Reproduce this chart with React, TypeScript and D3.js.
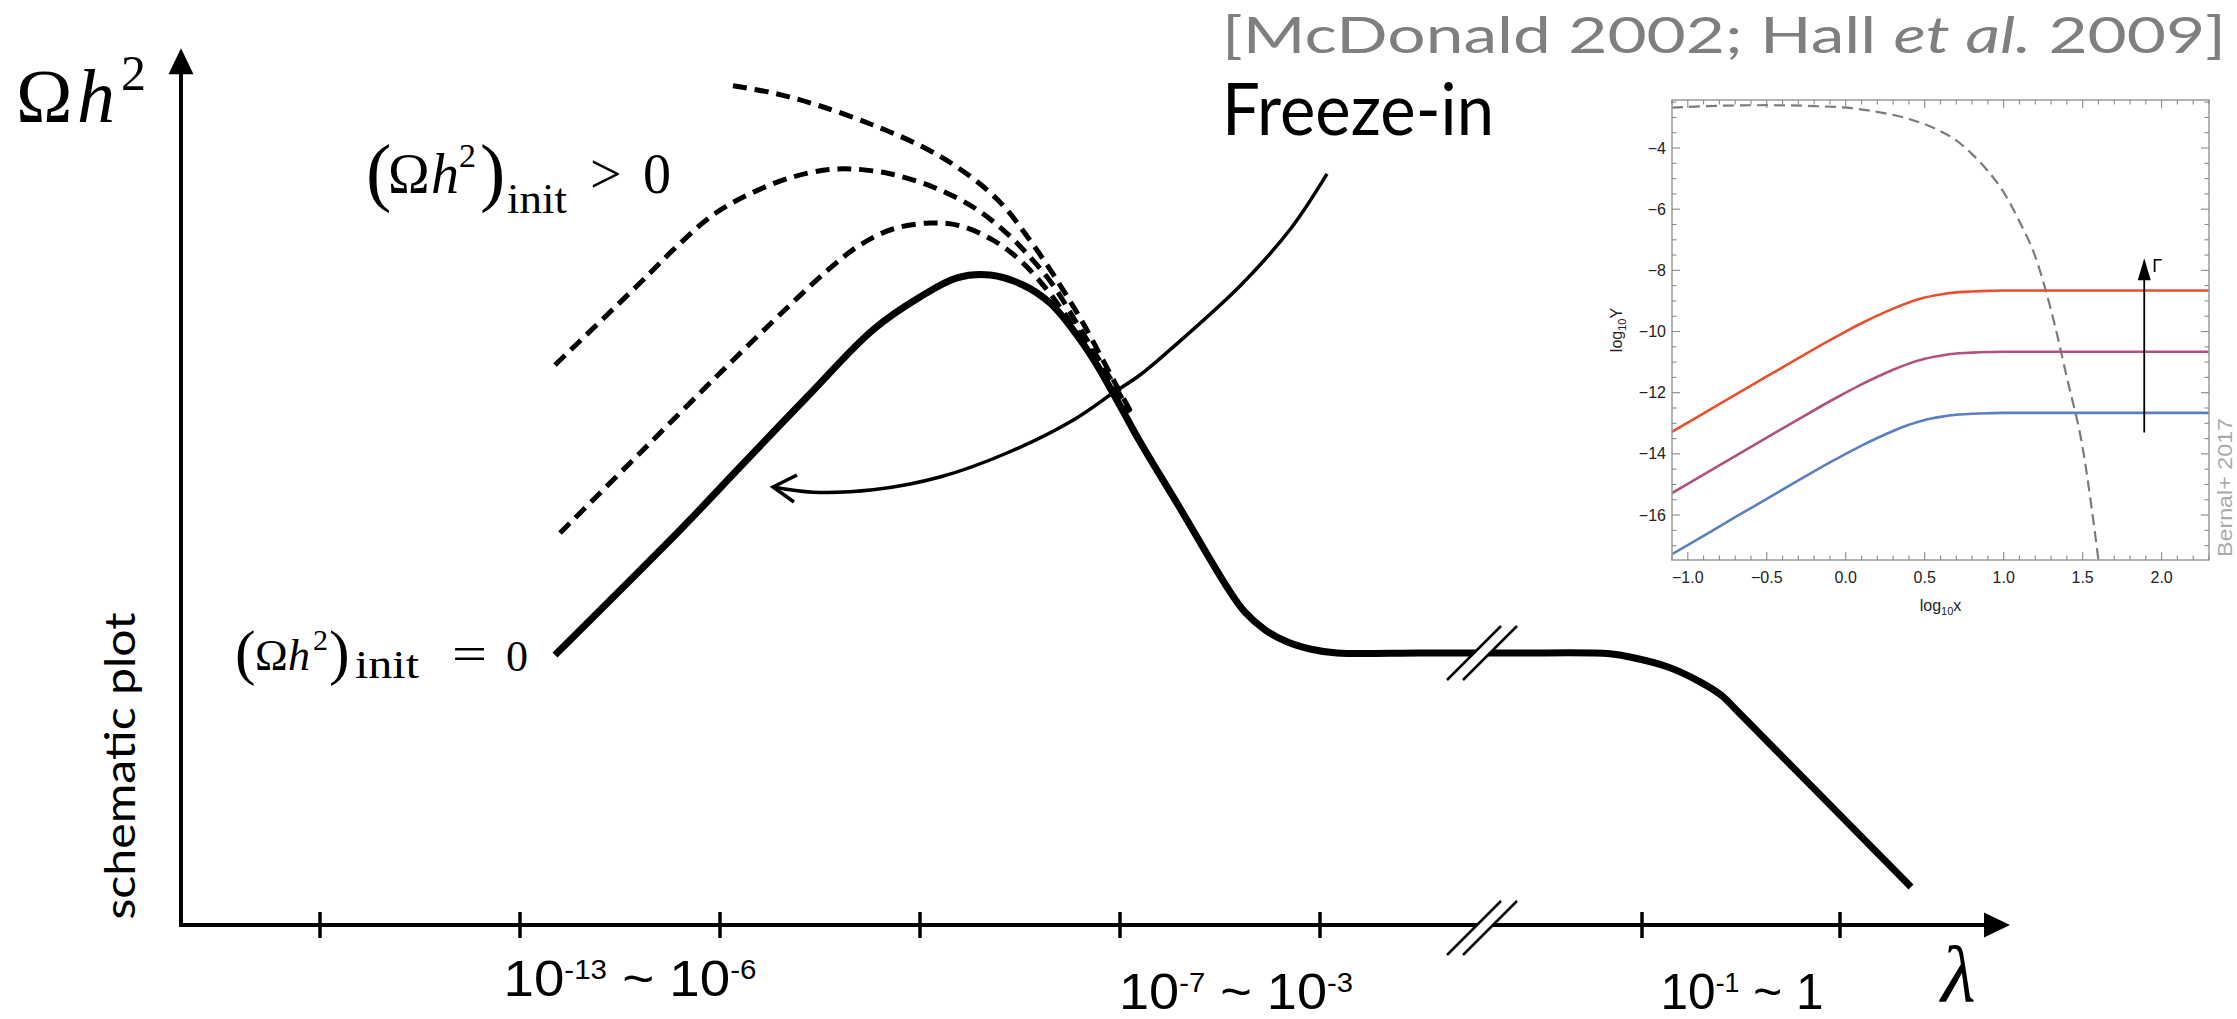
import React, { useRef, useEffect } from 'react';
import * as d3 from 'd3';

type Pt = [number, number];

const W = 2237;
const H = 1019;

const SERIF = '"Liberation Serif", "Times New Roman", serif';
const SANS = '"Liberation Sans", Arial, sans-serif';
const HUMAN = 'Lato, "Open Sans", sans-serif';

// ---- main schematic: x = position along the lambda axis (tick units), y = relic abundance (arbitrary units)
const lambdaTicks = [1, 2, 3, 4, 5, 6, 7.61, 8.6];
const lambdaBreak = 6.81;
const rangeLabelPos = [2.55, 5.58, 8.11];
const rangeLabelBase = [996, 1009, 1009];
const rangeLabelWidth = [253, 234, 163];
const rangeLabelParts = [
  ['10', '-13', ' ~ ', '10', '-6'],
  ['10', '-7', ' ~ ', '10', '-3'],
  ['10', '-1', ' ~ 1', '', ''],
];

// (Omega h^2)_init = 0
const zeroInitCurve: Pt[] = [
  [2.175, 3.375], [2.815, 4.975], [3.1, 5.725], [3.435, 6.6], [3.765, 7.44], [4.0, 7.85],
  [4.185, 8.09], [4.35, 8.125], [4.515, 8.0], [4.65, 7.775], [4.765, 7.44], [4.875, 7.04],
  [4.985, 6.56], [5.1, 6.04], [5.3, 5.21], [5.535, 4.225], [5.625, 3.91], [5.725, 3.69],
  [5.835, 3.54], [5.95, 3.45], [6.085, 3.4], [6.5, 3.4], [7.0, 3.4], [7.35, 3.4],
  [7.45, 3.39], [7.55, 3.35], [7.74, 3.225], [7.9, 3.04], [8.005, 2.875], [8.1, 2.64],
  [8.955, 0.475],
];

// (Omega h^2)_init > 0, three initial values
const initCurveHigh: Pt[] = [
  [3.065, 10.49], [3.265, 10.4], [3.485, 10.25], [3.765, 10.0], [4.015, 9.725], [4.185, 9.475],
  [4.335, 9.19], [4.435, 8.94], [4.535, 8.61], [4.625, 8.29], [4.715, 7.94], [4.815, 7.525],
  [4.915, 7.06], [5.0, 6.66], [5.06, 6.39],
];
const initCurveMid: Pt[] = [
  [2.175, 7.0], [2.6, 8.025], [2.775, 8.46], [2.965, 8.875], [3.15, 9.14], [3.35, 9.34],
  [3.535, 9.44], [3.665, 9.45], [3.85, 9.39], [4.065, 9.225], [4.265, 8.975], [4.415, 8.69],
  [4.55, 8.35], [4.665, 8.0], [4.765, 7.6], [4.865, 7.19], [4.965, 6.775], [5.05, 6.41],
];
const initCurveLow: Pt[] = [
  [2.2, 4.9], [2.6, 5.9], [3.0, 6.9], [3.35, 7.75], [3.55, 8.21], [3.7, 8.5], [3.865, 8.7],
  [4.05, 8.775], [4.2, 8.74], [4.365, 8.56], [4.5, 8.31], [4.635, 7.94], [4.735, 7.6],
  [4.85, 7.19], [4.95, 6.75], [5.04, 6.4],
];

// thin "freeze-in" arrow, tip first
const freezeInArrow: Pt[] = [
  [3.265, 5.475], [3.465, 5.41], [3.765, 5.44], [4.1, 5.6], [4.435, 5.9], [4.765, 6.31],
  [4.965, 6.65], [5.1, 6.875], [5.25, 7.19], [5.605, 8.0], [5.855, 8.71], [6.035, 9.39],
];

// ---- inset (Bernal+ 2017): log10 Y vs log10 x
const insetX = [-1.1, -0.9, -0.7, -0.5, -0.3, -0.1, 0.0, 0.1, 0.2, 0.3, 0.4, 0.5, 0.6, 0.7, 0.8, 0.9, 1.0, 1.5, 2.3];
const yieldHigh = [-13.28, -12.68, -12.07, -11.47, -10.87, -10.28, -10.0, -9.73, -9.48, -9.25, -9.05, -8.89, -8.79, -8.72, -8.69, -8.67, -8.66, -8.66, -8.66];
const yieldMid = [-15.28, -14.68, -14.07, -13.47, -12.87, -12.28, -12.0, -11.73, -11.48, -11.25, -11.05, -10.89, -10.79, -10.72, -10.69, -10.67, -10.66, -10.66, -10.66];
const yieldLow = [-17.28, -16.68, -16.07, -15.47, -14.87, -14.28, -14.0, -13.73, -13.48, -13.25, -13.05, -12.89, -12.79, -12.72, -12.69, -12.67, -12.66, -12.66, -12.66];
const eqX = [-1.1, -0.8, -0.5, -0.2, 0.0, 0.2, 0.4, 0.6, 0.7, 0.8, 0.9, 1.0, 1.1, 1.2, 1.3, 1.4, 1.5, 1.6];
const eqY = [-2.68, -2.62, -2.6, -2.63, -2.68, -2.82, -3.05, -3.45, -3.75, -4.2, -4.75, -5.45, -6.4, -7.55, -9.3, -11.5, -13.8, -17.47];
const insetXTicks = [-1, -0.5, 0, 0.5, 1, 1.5, 2];
const insetYTicks = [-16, -14, -12, -10, -8, -6, -4];
const yieldColors = ['#E8502F', '#B0527F', '#5B7FBF'];
const gammaArrow = { x: 1.89, from: -13.3, to: -7.6 };

const App: React.FC = () => {
  const svgRef = useRef<SVGSVGElement>(null);

  useEffect(() => {
    if (!svgRef.current) return;
    const svg = d3.select(svgRef.current);
    svg.selectAll('*').remove();

    svg.append('rect').attr('width', W).attr('height', H).attr('fill', '#fff');

    const x = d3.scaleLinear().domain([0, 10]).range([120, 2120]);
    const y = d3.scaleLinear().domain([0, 10]).range([925, 125]);
    const line = d3.line<Pt>().x(d => x(d[0])).y(d => y(d[1])).curve(d3.curveCatmullRom.alpha(0.5));

    // axes
    const x0 = x(0.305);
    const y0 = y(0);
    const xTip = x(9.45);
    const yTip = y(10.96);
    svg.append('line')
      .attr('x1', x0 - 2).attr('x2', xTip - 20).attr('y1', y0).attr('y2', y0)
      .attr('stroke', '#000').attr('stroke-width', 4);
    svg.append('line')
      .attr('x1', x0).attr('x2', x0).attr('y1', y0 + 2).attr('y2', yTip + 20)
      .attr('stroke', '#000').attr('stroke-width', 4);
    svg.append('path')
      .attr('d', `M${xTip},${y0} L${xTip - 26},${y0 - 12.5} L${xTip - 26},${y0 + 12.5} Z`)
      .attr('fill', '#000');
    svg.append('path')
      .attr('d', `M${x0},${yTip} L${x0 - 12.5},${yTip + 26} L${x0 + 12.5},${yTip + 26} Z`)
      .attr('fill', '#000');

    svg.selectAll('.tick')
      .data(lambdaTicks)
      .enter()
      .append('line')
      .attr('class', 'tick')
      .attr('x1', d => x(d)).attr('x2', d => x(d))
      .attr('y1', y0 - 13).attr('y2', y0 + 13)
      .attr('stroke', '#000').attr('stroke-width', 3.5);

    // range labels under the axis
    rangeLabelParts.forEach((parts, i) => {
      const t = svg.append('text')
        .attr('x', x(rangeLabelPos[i]))
        .attr('y', rangeLabelBase[i])
        .attr('text-anchor', 'middle')
        .attr('font-family', SANS)
        .attr('font-size', 50)
        .attr('textLength', rangeLabelWidth[i])
        .attr('lengthAdjust', 'spacingAndGlyphs');
      t.append('tspan').text(parts[0]);
      t.append('tspan').attr('font-size', 27).attr('dy', -17).text(parts[1]);
      t.append('tspan').attr('dy', 17).text(parts[2]);
      if (parts[3]) {
        t.append('tspan').text(parts[3]);
        t.append('tspan').attr('font-size', 27).attr('dy', -17).text(parts[4]);
      }
    });

    // dashed curves (nonzero initial abundance)
    [initCurveHigh, initCurveMid, initCurveLow].forEach(c => {
      svg.append('path')
        .attr('d', line(c))
        .attr('fill', 'none')
        .attr('stroke', '#000')
        .attr('stroke-width', 5)
        .attr('stroke-dasharray', '14 8');
    });

    // solid curve
    svg.append('path')
      .attr('d', line(zeroInitCurve))
      .attr('fill', 'none')
      .attr('stroke', '#000')
      .attr('stroke-width', 7)
      .attr('stroke-linejoin', 'round');

    // freeze-in arrow
    svg.append('path')
      .attr('d', line(freezeInArrow))
      .attr('fill', 'none')
      .attr('stroke', '#000')
      .attr('stroke-width', 3.5);
    const tx = x(freezeInArrow[0][0]);
    const ty = y(freezeInArrow[0][1]);
    svg.append('path')
      .attr('d', `M${tx + 24},${ty - 12} L${tx},${ty} L${tx + 21},${ty + 15}`)
      .attr('fill', 'none')
      .attr('stroke', '#000')
      .attr('stroke-width', 3.5);

    // axis breaks
    const drawBreak = (cx: number, cy: number) => {
      const s = 27;
      const o = 8;
      svg.append('path')
        .attr('d', `M${cx - o - s},${cy + s} L${cx - o + s},${cy - s} L${cx + o + s},${cy - s} L${cx + o - s},${cy + s} Z`)
        .attr('fill', '#fff');
      [-o, o].forEach(dx => {
        svg.append('line')
          .attr('x1', cx + dx - s).attr('y1', cy + s)
          .attr('x2', cx + dx + s).attr('y2', cy - s)
          .attr('stroke', '#000').attr('stroke-width', 2.5);
      });
    };
    drawBreak(x(lambdaBreak), y(3.4));
    drawBreak(x(lambdaBreak), y0 + 3);

    // text annotations
    const put = (px: number, py: number, s: string, size: number, italic = false, len?: number) => {
      const t = svg.append('text')
        .attr('x', px).attr('y', py)
        .attr('font-family', SERIF)
        .attr('font-size', size)
        .attr('font-style', italic ? 'italic' : 'normal')
        .text(s);
      if (len) t.attr('textLength', len).attr('lengthAdjust', 'spacingAndGlyphs');
      return t;
    };

    // Omega h^2 axis label
    put(16, 122, 'Ω', 76);
    put(77, 122, 'h', 76, true);
    put(121, 90, '2', 50);

    // (Omega h^2)_init > 0
    put(366, 197, '(', 76);
    put(388, 193, 'Ω', 56);
    put(431, 193, 'h', 56, true);
    put(459, 167, '2', 34);
    put(480, 197, ')', 76);
    put(507, 213, 'init', 42, false, 60);
    put(590, 193, '>', 56);
    put(643, 193, '0', 56);

    // (Omega h^2)_init = 0
    put(235, 673, '(', 62);
    put(255, 670, 'Ω', 44);
    put(288, 670, 'h', 44, true);
    put(313, 650, '2', 30);
    put(329, 673, ')', 62);
    put(355, 678, 'init', 40, false, 64);
    put(452, 670, '=', 48, false, 35);
    put(506, 671, '0', 44);

    // lambda
    put(1941, 1001, 'λ', 80, true);

    // schematic plot
    svg.append('text')
      .attr('transform', 'translate(135,766) rotate(-90)')
      .attr('text-anchor', 'middle')
      .attr('font-family', HUMAN)
      .attr('font-size', 42)
      .attr('textLength', 307)
      .attr('lengthAdjust', 'spacingAndGlyphs')
      .text('schematic plot');

    // citation & title
    const cite = svg.append('text')
      .attr('x', 1222).attr('y', 53)
      .attr('font-family', HUMAN)
      .attr('font-size', 50)
      .attr('fill', '#7f7f7f')
      .attr('textLength', 1004)
      .attr('lengthAdjust', 'spacingAndGlyphs');
    cite.append('tspan').text('[McDonald 2002; Hall ');
    cite.append('tspan').attr('font-style', 'italic').text('et al.');
    cite.append('tspan').text(' 2009]');

    svg.append('text')
      .attr('x', 1222).attr('y', 135)
      .attr('font-family', HUMAN)
      .attr('font-size', 72)
      .attr('textLength', 272)
      .attr('lengthAdjust', 'spacingAndGlyphs')
      .text('Freeze-in');

    // ---- inset
    const ix = d3.scaleLinear().domain([-1.1, 2.3]).range([1672, 2209]);
    const iy = d3.scaleLinear().domain([-17.47, -2.43]).range([560, 100]);
    const inset = svg.append('g');

    inset.append('clipPath').attr('id', 'inset-clip')
      .append('rect')
      .attr('x', ix(-1.1)).attr('y', iy(-2.43))
      .attr('width', ix(2.3) - ix(-1.1)).attr('height', iy(-17.47) - iy(-2.43));

    const plot = inset.append('g').attr('clip-path', 'url(#inset-clip)');
    const iline = d3.line<number>()
      .curve(d3.curveMonotoneX);

    plot.append('path')
      .attr('d', iline.x((_, i) => ix(eqX[i])).y(d => iy(d))(eqY))
      .attr('fill', 'none')
      .attr('stroke', '#7b7b7b')
      .attr('stroke-width', 2.2)
      .attr('stroke-dasharray', '11 6');

    [yieldHigh, yieldMid, yieldLow].forEach((ys, k) => {
      plot.append('path')
        .attr('d', iline.x((_, i) => ix(insetX[i])).y(d => iy(d))(ys))
        .attr('fill', 'none')
        .attr('stroke', yieldColors[k])
        .attr('stroke-width', 2.6);
    });

    // Gamma arrow
    const gx = ix(gammaArrow.x);
    const gTip = iy(gammaArrow.to);
    inset.append('line')
      .attr('x1', gx).attr('x2', gx)
      .attr('y1', iy(gammaArrow.from)).attr('y2', gTip + 18)
      .attr('stroke', '#000').attr('stroke-width', 1.8);
    inset.append('path')
      .attr('d', `M${gx},${gTip} L${gx - 6.5},${gTip + 22} L${gx + 6.5},${gTip + 22} Z`)
      .attr('fill', '#000');
    inset.append('text')
      .attr('x', gx + 8).attr('y', gTip + 14)
      .attr('font-family', SANS).attr('font-size', 18)
      .text('Γ');

    // frame with inward ticks on every side
    const fx0 = ix(-1.1), fx1 = ix(2.3), fy0 = iy(-2.43), fy1 = iy(-17.47);
    inset.append('rect')
      .attr('x', fx0).attr('y', fy0)
      .attr('width', fx1 - fx0).attr('height', fy1 - fy0)
      .attr('fill', 'none').attr('stroke', '#9a9a9a').attr('stroke-width', 1.5);

    const tickG = inset.append('g').attr('stroke', '#8a8a8a').attr('stroke-width', 1.1);
    for (let k = -11; k <= 23; k++) {
      const px = ix(k / 10);
      const len = k % 5 === 0 ? 8 : 4.5;
      tickG.append('line').attr('x1', px).attr('x2', px).attr('y1', fy1).attr('y2', fy1 - len);
      tickG.append('line').attr('x1', px).attr('x2', px).attr('y1', fy0).attr('y2', fy0 + len);
    }
    for (let k = -34; k <= -5; k++) {
      const py = iy(k / 2);
      const len = k % 4 === 0 ? 8 : 4.5;
      tickG.append('line').attr('x1', fx0).attr('x2', fx0 + len).attr('y1', py).attr('y2', py);
      tickG.append('line').attr('x1', fx1).attr('x2', fx1 - len).attr('y1', py).attr('y2', py);
    }

    const fmtX = d3.format('.1f');
    inset.selectAll('.ixl')
      .data(insetXTicks)
      .enter()
      .append('text')
      .attr('class', 'ixl')
      .attr('x', d => ix(d))
      .attr('y', fy1 + 23)
      .attr('text-anchor', 'middle')
      .attr('font-family', SANS)
      .attr('font-size', 16)
      .attr('fill', '#222')
      .text(d => fmtX(d));

    inset.selectAll('.iyl')
      .data(insetYTicks)
      .enter()
      .append('text')
      .attr('class', 'iyl')
      .attr('x', fx0 - 6)
      .attr('y', d => iy(d) + 5.5)
      .attr('text-anchor', 'end')
      .attr('font-family', SANS)
      .attr('font-size', 16)
      .attr('fill', '#222')
      .text(d => d3.format('d')(d));

    const xl = inset.append('text')
      .attr('x', (fx0 + fx1) / 2).attr('y', fy1 + 51)
      .attr('text-anchor', 'middle')
      .attr('font-family', SANS).attr('font-size', 16).attr('fill', '#222');
    xl.append('tspan').text('log');
    xl.append('tspan').attr('font-size', 11).attr('dy', 4).text('10');
    xl.append('tspan').attr('dy', -4).text('x');

    const yl = inset.append('text')
      .attr('transform', `translate(${fx0 - 50},${(fy0 + fy1) / 2}) rotate(-90)`)
      .attr('text-anchor', 'middle')
      .attr('font-family', SANS).attr('font-size', 16).attr('fill', '#222');
    yl.append('tspan').text('log');
    yl.append('tspan').attr('font-size', 11).attr('dy', 4).text('10');
    yl.append('tspan').attr('dy', -4).text('Y');

    inset.append('text')
      .attr('transform', `translate(2232,${fy1 - 3}) rotate(-90)`)
      .attr('font-family', SANS).attr('font-size', 20)
      .attr('fill', '#aaaaaa')
      .attr('textLength', 139)
      .attr('lengthAdjust', 'spacingAndGlyphs')
      .text('Bernal+ 2017');
  }, []);

  return (
    <svg
      ref={svgRef}
      width={W}
      height={H}
      style={{ position: 'absolute', left: 0, top: 0 }}
    />
  );
};

export default App;
